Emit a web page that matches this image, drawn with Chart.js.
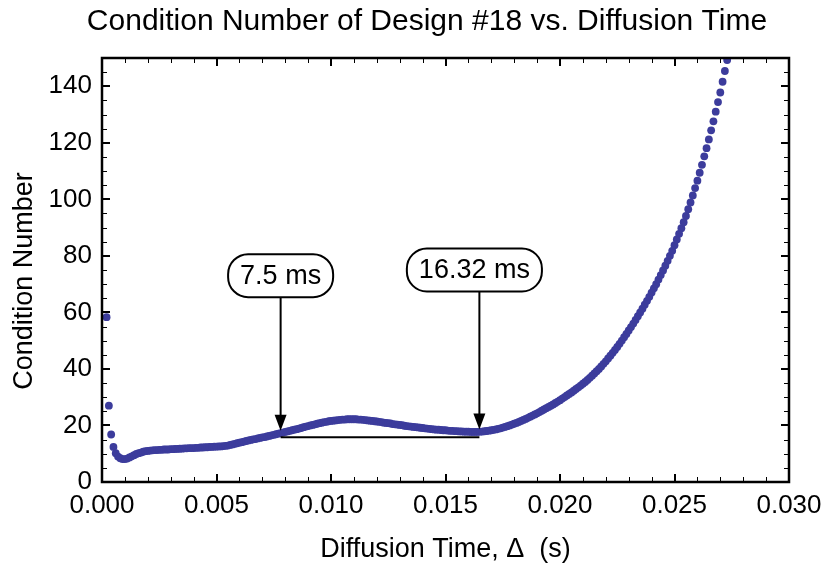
<!DOCTYPE html>
<html>
<head>
<meta charset="utf-8">
<script src="https://cdn.jsdelivr.net/npm/chart.js@4.4.0/dist/chart.umd.min.js"></script>
<style>
  html, body { margin: 0; padding: 0; background: #fff; }
</style>
</head>
<body>
<canvas id="chart" width="834" height="571"></canvas>
<script>
// diffusion time in ms (one point every 0.1 ms)
const timeMs = [
  0.2, 0.3, 0.4, 0.5, 0.6, 0.7, 0.8, 0.9,
  1.0, 1.1, 1.2, 1.3, 1.4, 1.5, 1.6, 1.7, 1.8, 1.9,
  2.0, 2.1, 2.2, 2.3, 2.4, 2.5, 2.6, 2.7, 2.8, 2.9,
  3.0, 3.1, 3.2, 3.3, 3.4, 3.5, 3.6, 3.7, 3.8, 3.9,
  4.0, 4.1, 4.2, 4.3, 4.4, 4.5, 4.6, 4.7, 4.8, 4.9,
  5.0, 5.1, 5.2, 5.3, 5.4, 5.5, 5.6, 5.7, 5.8, 5.9,
  6.0, 6.1, 6.2, 6.3, 6.4, 6.5, 6.6, 6.7, 6.8, 6.9,
  7.0, 7.1, 7.2, 7.3, 7.4, 7.5, 7.6, 7.7, 7.8, 7.9,
  8.0, 8.1, 8.2, 8.3, 8.4, 8.5, 8.6, 8.7, 8.8, 8.9,
  9.0, 9.1, 9.2, 9.3, 9.4, 9.5, 9.6, 9.7, 9.8, 9.9,
  10.0, 10.1, 10.2, 10.3, 10.4, 10.5, 10.6, 10.7, 10.8, 10.9,
  11.0, 11.1, 11.2, 11.3, 11.4, 11.5, 11.6, 11.7, 11.8, 11.9,
  12.0, 12.1, 12.2, 12.3, 12.4, 12.5, 12.6, 12.7, 12.8, 12.9,
  13.0, 13.1, 13.2, 13.3, 13.4, 13.5, 13.6, 13.7, 13.8, 13.9,
  14.0, 14.1, 14.2, 14.3, 14.4, 14.5, 14.6, 14.7, 14.8, 14.9,
  15.0, 15.1, 15.2, 15.3, 15.4, 15.5, 15.6, 15.7, 15.8, 15.9,
  16.0, 16.1, 16.2, 16.3, 16.4, 16.5, 16.6, 16.7, 16.8, 16.9,
  17.0, 17.1, 17.2, 17.3, 17.4, 17.5, 17.6, 17.7, 17.8, 17.9,
  18.0, 18.1, 18.2, 18.3, 18.4, 18.5, 18.6, 18.7, 18.8, 18.9,
  19.0, 19.1, 19.2, 19.3, 19.4, 19.5, 19.6, 19.7, 19.8, 19.9,
  20.0, 20.1, 20.2, 20.3, 20.4, 20.5, 20.6, 20.7, 20.8, 20.9,
  21.0, 21.1, 21.2, 21.3, 21.4, 21.5, 21.6, 21.7, 21.8, 21.9,
  22.0, 22.1, 22.2, 22.3, 22.4, 22.5, 22.6, 22.7, 22.8, 22.9,
  23.0, 23.1, 23.2, 23.3, 23.4, 23.5, 23.6, 23.7, 23.8, 23.9,
  24.0, 24.1, 24.2, 24.3, 24.4, 24.5, 24.6, 24.7, 24.8, 24.9,
  25.0, 25.1, 25.2, 25.3, 25.4, 25.5, 25.6, 25.7, 25.8, 25.9,
  26.0, 26.1, 26.2, 26.3, 26.4, 26.5, 26.6, 26.7, 26.8, 26.9,
  27.0, 27.1, 27.2, 27.3
];

// condition number, same order as timeMs
const condNum = [
  58.3, 27.0, 16.8, 12.4, 10.2, 9.0, 8.4, 8.1,
  8.1, 8.3, 8.7, 9.1, 9.5, 9.9, 10.2, 10.4, 10.7, 10.9,
  11.0, 11.1, 11.2, 11.3, 11.3, 11.4, 11.4, 11.5, 11.5, 11.5,
  11.6, 11.6, 11.7, 11.7, 11.8, 11.8, 11.9, 11.9, 12.0, 12.0,
  12.0, 12.1, 12.1, 12.2, 12.2, 12.3, 12.3, 12.4, 12.4, 12.5,
  12.5, 12.6, 12.6, 12.7, 12.8, 12.9, 13.1, 13.3, 13.5, 13.7,
  13.9, 14.1, 14.3, 14.5, 14.7, 14.9, 15.1, 15.2, 15.4, 15.6,
  15.8, 15.9, 16.1, 16.3, 16.5, 16.7, 16.9, 17.1, 17.3, 17.5,
  17.7, 17.9, 18.1, 18.3, 18.5, 18.7, 18.9, 19.1, 19.4, 19.6,
  19.8, 20.0, 20.2, 20.4, 20.6, 20.8, 21.0, 21.2, 21.3, 21.5,
  21.6, 21.7, 21.8, 21.9, 22.0, 22.1, 22.1, 22.2, 22.2, 22.2,
  22.2, 22.2, 22.1, 22.1, 22.0, 21.9, 21.8, 21.7, 21.6, 21.5,
  21.4, 21.3, 21.2, 21.0, 20.9, 20.8, 20.7, 20.5, 20.4, 20.3,
  20.2, 20.1, 19.9, 19.8, 19.7, 19.6, 19.5, 19.4, 19.3, 19.2,
  19.1, 19.0, 18.9, 18.8, 18.7, 18.6, 18.5, 18.5, 18.4, 18.3,
  18.3, 18.2, 18.1, 18.1, 18.0, 18.0, 17.9, 17.9, 17.8, 17.8,
  17.8, 17.7, 17.7, 17.7, 17.7, 17.8, 17.85, 17.95, 18.05, 18.15,
  18.3, 18.45, 18.6, 18.8, 19.0, 19.25, 19.5, 19.75, 20.0, 20.3,
  20.6, 20.9, 21.25, 21.6, 21.95, 22.3, 22.7, 23.1, 23.5, 23.9,
  24.3, 24.75, 25.2, 25.65, 26.1, 26.55, 27.0, 27.45, 27.95, 28.45,
  28.95, 29.5, 30.05, 30.6, 31.15, 31.7, 32.3, 32.9, 33.5, 34.1,
  34.75, 35.4, 36.1, 36.85, 37.6, 38.4, 39.2, 40.0, 40.9, 41.8,
  42.7, 43.7, 44.7, 45.7, 46.7, 47.8, 48.9, 50.05, 51.2, 52.4,
  53.6, 54.8, 56.05, 57.35, 58.65, 60.0, 61.3, 62.7, 64.1, 65.5,
  67.0, 68.5, 70.0, 71.6, 73.2, 74.85, 76.5, 78.25, 80.0, 81.8,
  83.8, 85.8, 87.8, 89.8, 91.9, 94.1, 96.5, 98.9, 101.4, 104.0,
  106.6, 109.4, 112.2, 115.2, 118.1, 121.2, 124.4, 127.6, 131.0, 134.4,
  137.8, 141.6, 145.4, 149.3
];

const xTicks = [0, 0.005, 0.010, 0.015, 0.020, 0.025, 0.030];
const yTicks = [0, 20, 40, 60, 80, 100, 120, 140];
const xMinorStep = 0.001;
const yMinorStep = 5;

const titleText = "Condition Number of Design #18 vs. Diffusion Time";
const yTitleText = "Condition Number";

// callouts: label, x position (s), arrow tip and box centre in y units
const markLabels = ["7.5 ms", "16.32 ms"];
const markX = [0.0078, 0.01648];
const markTipY = [18.1, 18.6];
const markBoxY = [73.0, 75.0];
const spanY = 15.8;

const FONT = "'Liberation Sans', Arial, Helvetica, sans-serif";
Chart.defaults.font.family = FONT;
Chart.defaults.color = "#000";

function roundBox(ctx, x, y, w, h, r) {
  ctx.beginPath();
  ctx.moveTo(x + r, y);
  ctx.lineTo(x + w - r, y);
  ctx.arc(x + w - r, y + r, r, -Math.PI / 2, 0);
  ctx.lineTo(x + w, y + h - r);
  ctx.arc(x + w - r, y + h - r, r, 0, Math.PI / 2);
  ctx.lineTo(x + r, y + h);
  ctx.arc(x + r, y + h - r, r, Math.PI / 2, Math.PI);
  ctx.lineTo(x, y + r);
  ctx.arc(x + r, y + r, r, Math.PI, Math.PI * 1.5);
  ctx.closePath();
}

// inward ticks on all four sides, frame, titles and callouts
const framePlugin = {
  id: "frame",
  afterDatasetsDraw(chart) {
    const { ctx, chartArea: a } = chart;
    const xs = chart.scales.x, ys = chart.scales.y;
    ctx.save();
    ctx.strokeStyle = "#000";
    ctx.lineWidth = 1;
    ctx.beginPath();
    for (let k = 0; k <= 30; k++) {
      if (k % 5 === 0) continue;
      const px = Math.round(xs.getPixelForValue(k * xMinorStep)) + 0.5;
      ctx.moveTo(px, a.bottom); ctx.lineTo(px, a.bottom - 5);
      ctx.moveTo(px, a.top); ctx.lineTo(px, a.top + 5);
    }
    for (let k = 0; k <= 30; k++) {
      if (k % 4 === 0) continue;
      const py = Math.round(ys.getPixelForValue(k * yMinorStep)) + 0.5;
      ctx.moveTo(a.left, py); ctx.lineTo(a.left + 5, py);
      ctx.moveTo(a.right, py); ctx.lineTo(a.right - 5, py);
    }
    ctx.stroke();
    ctx.lineWidth = 2;
    ctx.beginPath();
    xTicks.forEach(v => {
      const px = Math.round(xs.getPixelForValue(v));
      ctx.moveTo(px, a.bottom); ctx.lineTo(px, a.bottom - 8);
      ctx.moveTo(px, a.top); ctx.lineTo(px, a.top + 8);
    });
    yTicks.forEach(v => {
      const py = Math.round(ys.getPixelForValue(v));
      ctx.moveTo(a.left, py); ctx.lineTo(a.left + 8, py);
      ctx.moveTo(a.right, py); ctx.lineTo(a.right - 8, py);
    });
    ctx.stroke();
    ctx.lineWidth = 2.5;
    ctx.strokeRect(a.left, a.top, a.right - a.left, a.bottom - a.top);
    ctx.restore();
  },
  afterDraw(chart) {
    const ctx = chart.ctx;
    const xs = chart.scales.x, ys = chart.scales.y;
    ctx.save();
    ctx.fillStyle = "#000";
    ctx.textAlign = "center";
    ctx.textBaseline = "middle";
    ctx.font = "30px " + FONT;
    ctx.fillText(titleText, 427, 22);
    ctx.save();
    ctx.translate(25, 281);
    ctx.rotate(-Math.PI / 2);
    ctx.font = "27px " + FONT;
    ctx.fillText(yTitleText, 0, 0);
    ctx.restore();

    ctx.strokeStyle = "#000";
    ctx.lineWidth = 2;
    ctx.font = "27px " + FONT;
    const boxH = 43, padX = 12, boxDx = [0, -5];
    markLabels.forEach((lab, i) => {
      const px = xs.getPixelForValue(markX[i]);
      const bx = px + boxDx[i];
      const cy = ys.getPixelForValue(markBoxY[i]);
      const tip = ys.getPixelForValue(markTipY[i]);
      const w = ctx.measureText(lab).width + padX * 2;
      ctx.fillStyle = "#fff";
      roundBox(ctx, bx - w / 2, cy - boxH / 2, w, boxH, 20);
      ctx.fill();
      ctx.stroke();
      ctx.fillStyle = "#000";
      ctx.fillText(lab, bx, cy + 1);
      ctx.beginPath();
      ctx.moveTo(px, cy + boxH / 2);
      ctx.lineTo(px, tip - 14);
      ctx.stroke();
      ctx.beginPath();
      ctx.moveTo(px - 6, tip - 16);
      ctx.lineTo(px + 6, tip - 16);
      ctx.lineTo(px, tip);
      ctx.closePath();
      ctx.fill();
    });
    const sy = ys.getPixelForValue(spanY);
    ctx.beginPath();
    ctx.moveTo(xs.getPixelForValue(markX[0]), sy);
    ctx.lineTo(xs.getPixelForValue(markX[1]), sy);
    ctx.stroke();
    ctx.restore();
  }
};

new Chart(document.getElementById("chart"), {
  type: "scatter",
  data: {
    datasets: [{
      data: timeMs.map((t, i) => ({ x: t / 1000, y: condNum[i] })),
      backgroundColor: "#3c3c9c",
      borderWidth: 0,
      pointRadius: 3.9,
      pointHoverRadius: 3.9
    }]
  },
  options: {
    responsive: false,
    animation: false,
    devicePixelRatio: 1,
    layout: { padding: { left: 0, right: 45, top: 58, bottom: 0 } },
    plugins: {
      legend: { display: false },
      tooltip: { enabled: false },
      title: { display: false }
    },
    scales: {
      x: {
        type: "linear",
        min: 0,
        max: 0.03,
        afterBuildTicks: s => { s.ticks = xTicks.map(v => ({ value: v })); },
        afterFit: s => { s.height = 89; },
        grid: { display: false, drawTicks: false },
        border: { display: false },
        ticks: {
          font: { size: 26 },
          color: "#000",
          padding: 8,
          maxRotation: 0,
          callback: v => v.toFixed(3)
        },
        title: {
          display: true,
          text: "Diffusion Time, \u0394  (s)",
          color: "#000",
          font: { size: 27 },
          padding: { top: 0, bottom: 5 }
        }
      },
      y: {
        min: 0,
        max: 150,
        afterBuildTicks: s => { s.ticks = yTicks.map(v => ({ value: v })); },
        afterFit: s => { s.width = 102; },
        grid: { display: false, drawTicks: false },
        border: { display: false },
        ticks: { font: { size: 26 }, color: "#000", padding: 10 },
        title: { display: false }
      }
    }
  },
  plugins: [framePlugin]
});
</script>
</body>
</html>
